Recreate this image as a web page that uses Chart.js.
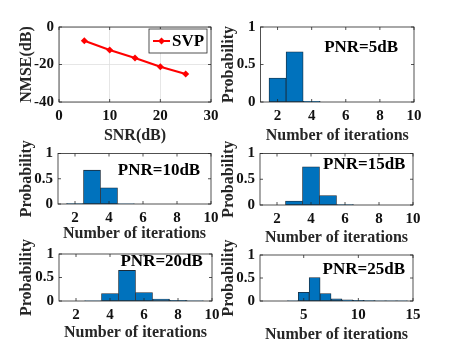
<!DOCTYPE html>
<html>
<head>
<meta charset="utf-8">
<script src="https://cdn.jsdelivr.net/npm/chart.js@4.4.0/dist/chart.umd.min.js"></script>
<style>
  body { margin: 0; background: #fff; }
  #wrap { position: relative; width: 457px; height: 357px; }
  canvas { position: absolute; left: 0; top: 0; }
</style>
</head>
<body>
<div id="wrap">
  <canvas id="nmse" width="457" height="357"></canvas>
  <canvas id="pnr5" width="457" height="357"></canvas>
  <canvas id="pnr10" width="457" height="357"></canvas>
  <canvas id="pnr15" width="457" height="357"></canvas>
  <canvas id="pnr20" width="457" height="357"></canvas>
  <canvas id="pnr25" width="457" height="357"></canvas>
</div>
<script>
// DADOS
const snrDb = [5, 10, 15, 20, 25];
const nmseSvp = [-7.3, -12.3, -16.5, -21.2, -25.1];
const snrTicks = [0, 10, 20, 30];
const nmseTicks = [-40, -20, 0];

const iterPnr5 = [2, 3, 4];
const probPnr5 = [0.32, 0.67, 0.01];
const iterPnr10 = [2, 3, 4, 5];
const probPnr10 = [0.01, 0.67, 0.32, 0.005];
const iterPnr15 = [3, 4, 5, 6];
const probPnr15 = [0.075, 0.74, 0.185, 0.01];
const iterPnr20 = [3, 4, 5, 6, 7, 8, 9];
const probPnr20 = [0.003, 0.16, 0.65, 0.18, 0.04, 0.012, 0.006];
const iterPnr25 = [4, 5, 6, 7, 8, 9, 10, 11, 12, 13, 14];
const probPnr25 = [0.005, 0.19, 0.51, 0.16, 0.045, 0.025, 0.012, 0.008, 0.005, 0.003, 0.002];

const probTicks = [0, 0.5, 1];
const iterTicks = [2, 4, 6, 8, 10];
const iterTicks25 = [5, 10, 15];

const FONT = '"Liberation Serif", "Times New Roman", serif';
const AXIS = '#262626';
const BLUE = '#0072BD';

Chart.defaults.font.family = FONT;
Chart.defaults.font.weight = 'bold';
Chart.defaults.color = AXIS;
Chart.defaults.animation = false;

// caixa, ticks para dentro, texto e legenda
const frame = {
    id: 'frame',
    afterDraw(chart, args, opts) {
        const { ctx, chartArea: a, scales } = chart;
        ctx.save();
        ctx.strokeStyle = AXIS;
        ctx.lineWidth = 0.8;
        ctx.strokeRect(a.left, a.top, a.width, a.height);

        const t = 3;
        ctx.beginPath();
        scales.x.ticks.forEach(tk => {
            const px = scales.x.getPixelForValue(tk.value);
            ctx.moveTo(px, a.bottom); ctx.lineTo(px, a.bottom - t);
            ctx.moveTo(px, a.top); ctx.lineTo(px, a.top + t);
        });
        scales.y.ticks.forEach(tk => {
            const py = scales.y.getPixelForValue(tk.value);
            ctx.moveTo(a.left, py); ctx.lineTo(a.left + t, py);
            ctx.moveTo(a.right, py); ctx.lineTo(a.right - t, py);
        });
        ctx.stroke();

        if (opts.text) {
            ctx.font = 'bold 17px ' + FONT;
            ctx.fillStyle = '#000';
            ctx.textAlign = 'center';
            ctx.textBaseline = 'middle';
            ctx.fillText(opts.text, scales.x.getPixelForValue(opts.pos[0]), scales.y.getPixelForValue(opts.pos[1]));
        }

        if (opts.legend) {
            const ds = chart.data.datasets[0];
            const w = 58, h = 24;
            const x0 = a.right - 4 - w, y0 = a.top + 2;
            ctx.fillStyle = '#fff';
            ctx.fillRect(x0, y0, w, h);
            ctx.strokeStyle = AXIS;
            ctx.lineWidth = 0.8;
            ctx.strokeRect(x0, y0, w, h);
            const ym = y0 + h / 2;
            ctx.strokeStyle = ds.borderColor;
            ctx.lineWidth = 2;
            ctx.beginPath();
            ctx.moveTo(x0 + 4, ym); ctx.lineTo(x0 + 21, ym);
            ctx.stroke();
            ctx.fillStyle = ds.backgroundColor;
            ctx.beginPath();
            ctx.moveTo(x0 + 12.5, ym - 3.5); ctx.lineTo(x0 + 16, ym);
            ctx.lineTo(x0 + 12.5, ym + 3.5); ctx.lineTo(x0 + 9, ym);
            ctx.closePath();
            ctx.fill();
            ctx.font = 'bold 17px ' + FONT;
            ctx.fillStyle = '#000';
            ctx.textAlign = 'left';
            ctx.textBaseline = 'middle';
            ctx.fillText(ds.label, x0 + 23, ym + 1);
        }
        ctx.restore();
    }
};

const pad = (b) => ({ left: b.l - b.w, top: b.t, right: 457 - b.r, bottom: 357 - b.b - b.h });

const eixo = (b, axis, ticks, min, max, titulo, grid) => ({
    type: 'linear',
    min: min,
    max: max,
    offset: false,
    afterBuildTicks: s => { s.ticks = ticks.map(v => ({ value: v })); },
    afterFit: s => { if (axis === 'x') s.height = b.h; else s.width = b.w; },
    grid: grid ? { color: '#dfdfdf', lineWidth: 0.8, drawTicks: false } : { display: false, drawTicks: false },
    border: { display: false },
    ticks: { padding: 5, maxRotation: 0, autoSkip: false, font: { size: 15 }, color: '#111', callback: v => String(v) },
    title: { display: true, text: titulo, padding: 0, font: { size: 16 }, color: AXIS }
});

// GRAFICO NMSE
const boxNmse = { l: 59, t: 27, r: 211, b: 102, w: 42, h: 43 };
new Chart(document.getElementById('nmse'), {
    type: 'line',
    data: {
        datasets: [{
            label: 'SVP',
            data: snrDb.map((x, i) => ({ x: x, y: nmseSvp[i] })),
            borderColor: '#ff0000',
            backgroundColor: '#ff0000',
            borderWidth: 2,
            pointStyle: 'rectRot',
            pointRadius: 3.5,
            pointBorderWidth: 0
        }]
    },
    options: {
        responsive: false,
        layout: { padding: pad(boxNmse) },
        plugins: { legend: { display: false }, tooltip: { enabled: false }, frame: { legend: true } },
        scales: {
            x: eixo(boxNmse, 'x', snrTicks, 0, 30, 'SNR(dB)', true),
            y: eixo(boxNmse, 'y', nmseTicks, -40, 0, 'NMSE(dB)', true)
        }
    },
    plugins: [frame]
});

// HISTOGRAMAS
const histograma = (id, b, iters, probs, xMax, xTicks, texto, pos) => {
    new Chart(document.getElementById(id), {
        type: 'bar',
        data: {
            datasets: [{
                data: iters.map((x, i) => ({ x: x, y: probs[i] })),
                backgroundColor: BLUE,
                borderColor: '#1b2a38',
                borderWidth: 0.8,
                borderSkipped: false,
                barPercentage: 1,
                categoryPercentage: 1
            }]
        },
        options: {
            responsive: false,
            layout: { padding: pad(b) },
            plugins: { legend: { display: false }, tooltip: { enabled: false }, frame: { text: texto, pos: pos } },
            scales: {
                x: eixo(b, 'x', xTicks, 1, xMax, 'Number of iterations', false),
                y: eixo(b, 'y', probTicks, 0, 1, 'Probability', false)
            }
        },
        plugins: [frame]
    });
};

histograma('pnr5', { l: 260.5, t: 27, r: 414, b: 102, w: 41, h: 43 }, iterPnr5, probPnr5, 10, iterTicks, 'PNR=5dB', [6.9, 0.72]);
histograma('pnr10', { l: 58, t: 153.5, r: 211, b: 204, w: 41, h: 39 }, iterPnr10, probPnr10, 10, iterTicks, 'PNR=10dB', [6.94, 0.67]);
histograma('pnr15', { l: 260, t: 153.5, r: 413, b: 205, w: 41, h: 42 }, iterPnr15, probPnr15, 10, iterTicks, 'PNR=15dB', [7.13, 0.775]);
histograma('pnr20', { l: 59, t: 254, r: 212, b: 301, w: 42, h: 41 }, iterPnr20, probPnr20, 10, iterTicks, 'PNR=20dB', [7.04, 0.835]);
histograma('pnr25', { l: 260, t: 255, r: 413, b: 301, w: 41, h: 43 }, iterPnr25, probPnr25, 15, iterTicks25, 'PNR=25dB', [10.5, 0.69]);
</script>
</body>
</html>
